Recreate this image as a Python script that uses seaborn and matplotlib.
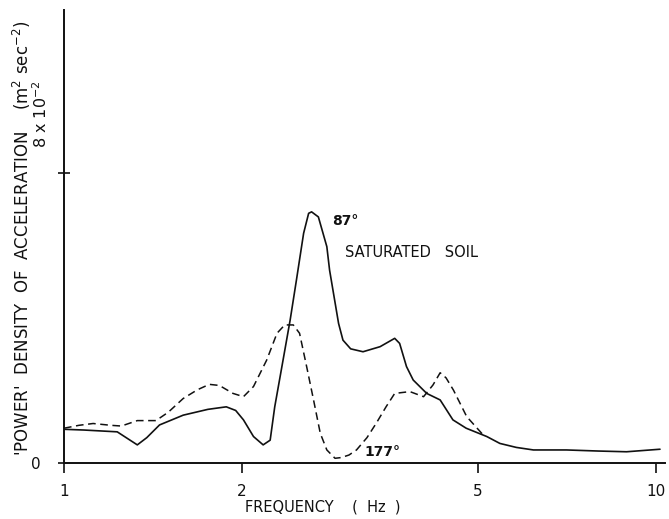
import matplotlib
matplotlib.use("Agg")
import matplotlib.pyplot as plt
import seaborn as sns
import pandas as pd

# Frequency (Hz) and 'power' density of acceleration (units of 1e-2 m^2 sec^-2)
freq_87 = [1.00, 1.08, 1.23, 1.33, 1.38, 1.45, 1.59, 1.75, 1.88, 1.95, 2.01, 2.09,
           2.17, 2.23, 2.27, 2.35, 2.41, 2.47, 2.54, 2.59, 2.62, 2.69, 2.78, 2.81,
           2.91, 2.96, 3.05, 3.20, 3.42, 3.62, 3.69, 3.79, 3.89, 4.10, 4.32, 4.54,
           4.78, 5.18, 5.45, 5.81, 6.21, 7.06, 8.00, 8.92, 10.16]
psd_87 = [0.93, 0.91, 0.86, 0.50, 0.70, 1.05, 1.32, 1.48, 1.55, 1.45, 1.19, 0.73,
          0.50, 0.63, 1.55, 2.93, 3.94, 5.05, 6.34, 6.89, 6.93, 6.79, 5.97, 5.32,
          3.85, 3.39, 3.15, 3.07, 3.21, 3.44, 3.30, 2.66, 2.29, 1.92, 1.74, 1.19,
          0.96, 0.73, 0.54, 0.43, 0.36, 0.36, 0.33, 0.31, 0.38]

freq_177 = [1.00, 1.06, 1.12, 1.20, 1.25, 1.33, 1.43, 1.50, 1.59, 1.68, 1.76, 1.83,
            1.93, 2.01, 2.09, 2.20, 2.29, 2.36, 2.44, 2.50, 2.57, 2.64, 2.71, 2.78,
            2.87, 2.94, 3.03, 3.12, 3.25, 3.37, 3.50, 3.62, 3.84, 4.05, 4.20, 4.32,
            4.42, 4.55, 4.79, 5.11]
psd_177 = [0.96, 1.04, 1.09, 1.04, 1.02, 1.17, 1.17, 1.40, 1.78, 2.02, 2.17, 2.14,
           1.92, 1.83, 2.11, 2.84, 3.58, 3.81, 3.81, 3.58, 2.66, 1.74, 0.82, 0.36,
           0.13, 0.15, 0.22, 0.36, 0.70, 1.10, 1.55, 1.92, 1.97, 1.83, 2.15, 2.49,
           2.35, 2.01, 1.28, 0.77]

x_ticks = [1, 2, 5, 10]
x_tick_labels = ["1", "2", "5", "10"]
y_ticks = [0, 8]
y_tick_labels = ["0", ""]

df87 = pd.DataFrame({"f": freq_87, "p": psd_87})
df177 = pd.DataFrame({"f": freq_177, "p": psd_177})

sns.set_style("ticks")
plt.rcParams["font.family"] = ["DejaVu Sans"]

W, H = 669, 519
fig = plt.figure(figsize=(W / 100, H / 100), dpi=100)
ax = fig.add_axes([64 / W, 56 / H, 601 / W, 453 / H])

ink = "#111111"
sns.lineplot(data=df87, x="f", y="p", ax=ax, color=ink, lw=1.2, sort=False,
             estimator=None)
sns.lineplot(data=df177, x="f", y="p", ax=ax, color=ink, lw=1.1, sort=False,
             estimator=None, dashes=False, linestyle=(0, (5, 3)))

ax.set_xscale("log")
ax.set_xlim(1, 10.36)
ax.set_ylim(0, 12.5)
ax.set_xticks(x_ticks)
ax.set_xticklabels(x_tick_labels, fontsize=11)
ax.minorticks_off()
ax.set_yticks(y_ticks)
ax.set_yticklabels(y_tick_labels, fontsize=11)
ax.tick_params(axis="x", direction="out", length=7, width=1.2, pad=8, colors=ink)
ax.tick_params(axis="y", direction="inout", length=9, width=1.2, pad=12, colors=ink)
ax.set_xlabel("")
ax.set_ylabel("")
sns.despine(ax=ax)
for s in ["left", "bottom"]:
    ax.spines[s].set_linewidth(1.4)
    ax.spines[s].set_color(ink)

ax.text(2.84, 6.68, "87°", fontsize=10, color=ink, ha="left", va="center",
        fontweight="bold")
ax.text(2.98, 5.82, "SATURATED   SOIL", fontsize=10.5, color=ink, ha="left",
        va="center")
ax.text(3.22, 0.30, "177°", fontsize=10, color=ink, ha="left", va="center",
        fontweight="bold")

fig.text(323 / W, 1 - 507 / H, "FREQUENCY    (  Hz  )", fontsize=10.5, color=ink,
         ha="center", va="center")
fig.text(22 / W, 1 - 238 / H,
         "'POWER'  DENSITY  OF  ACCELERATION    (m$^{2}$ sec$^{-2}$)",
         fontsize=12, color=ink, ha="center", va="center", rotation=90)
fig.text(41 / W, 1 - 114 / H, "8 x 10$^{-2}$", fontsize=11.5, color=ink,
         ha="center", va="center", rotation=90)

fig.savefig("out.png", dpi=100)
